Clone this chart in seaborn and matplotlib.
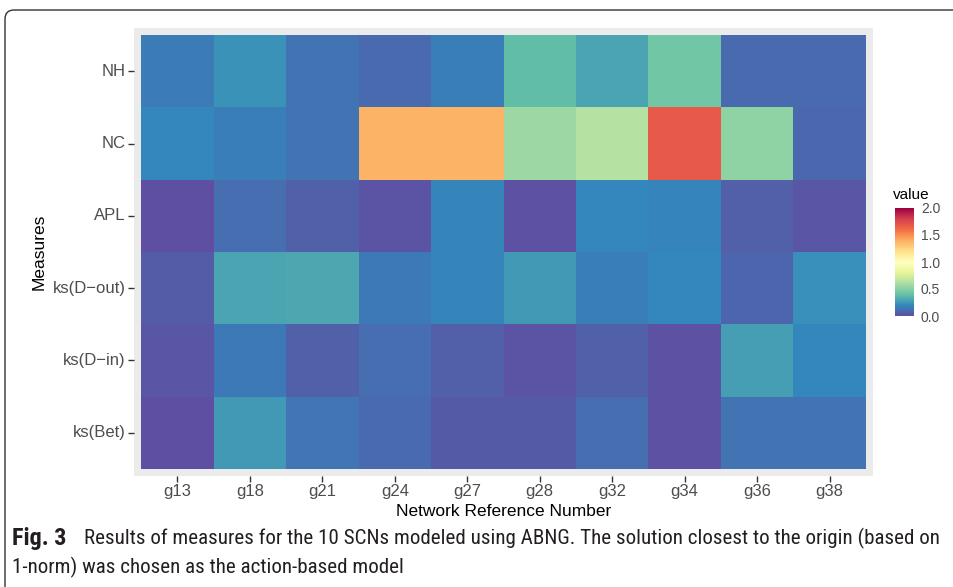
import numpy as np
import pandas as pd
import matplotlib
matplotlib.use("Agg")
import matplotlib.pyplot as plt
from matplotlib import font_manager
from matplotlib.patches import FancyBboxPatch
import seaborn as sns

networks = ["g13", "g18", "g21", "g24", "g27", "g28", "g32", "g34", "g36", "g38"]
measures = ["NH", "NC", "APL", "ks(D\u2212out)", "ks(D\u2212in)", "ks(Bet)"]

nh      = [0.16, 0.24, 0.13, 0.10, 0.17, 0.39, 0.30, 0.43, 0.10, 0.10]
nc      = [0.20, 0.17, 0.13, 1.38, 1.38, 0.56, 0.64, 1.68, 0.52, 0.09]
apl     = [0.00, 0.11, 0.07, 0.02, 0.19, 0.01, 0.20, 0.19, 0.06, 0.03]
ks_dout = [0.05, 0.30, 0.31, 0.15, 0.19, 0.26, 0.17, 0.20, 0.08, 0.23]
ks_din  = [0.03, 0.15, 0.07, 0.11, 0.06, 0.02, 0.07, 0.01, 0.28, 0.20]
ks_bet  = [0.00, 0.26, 0.14, 0.10, 0.04, 0.04, 0.11, 0.01, 0.13, 0.13]

cbar_ticks = [0.0, 0.5, 1.0, 1.5, 2.0]

df = pd.DataFrame([nh, nc, apl, ks_dout, ks_din, ks_bet], index=measures, columns=networks)

sns.set_theme(style="white")
plt.rcParams['font.family'] = ['Liberation Sans', 'DejaVu Sans']

W, H = 954, 587
fig = plt.figure(figsize=(W / 100, H / 100), dpi=100)

def px_axes(x0, y0, x1, y1):
    return fig.add_axes([x0 / W, 1 - y1 / H, (x1 - x0) / W, (y1 - y0) / H])

# background frame (journal box with rounded top-left corner)
bg = fig.add_axes([0, 0, 1, 1], zorder=-5)
bg.set_xlim(0, W)
bg.set_ylim(H, 0)
bg.axis("off")
bg.add_patch(FancyBboxPatch((5, 10), 1200, 900, boxstyle="round,pad=0,rounding_size=9",
                            fc="white", ec="#333333", lw=1.0))

ax = px_axes(134, 28, 873, 476)
cax = px_axes(895, 208, 914, 316)

ax.set_facecolor("#EBEBEB")
sns.heatmap(df, ax=ax, cmap="Spectral_r", vmin=0, vmax=2, cbar_ax=cax,
            linewidths=0, cbar_kws={"ticks": cbar_ticks})
ax.set_xlim(-0.1, len(networks) + 0.1)
ax.set_ylim(len(measures) + 0.1, -0.1)
for s in ax.spines.values():
    s.set_visible(False)
ax.set_xticks(np.arange(len(networks)) + 0.5)
ax.set_xticklabels(networks, rotation=0)
ax.set_yticks(np.arange(len(measures)) + 0.5)
ax.set_yticklabels(measures, rotation=0)
ax.tick_params(axis="both", length=4, width=1, color="#333333", labelcolor="#4D4D4D",
               labelsize=12, pad=2, bottom=True, left=True)
ax.set_xlabel("Network Reference Number", fontsize=12.5, color="black", labelpad=3)
ax.set_ylabel("Measures", fontsize=12.5, color="black", labelpad=4)

# colorbar styling (ggplot-like)
cbar = ax.collections[0].colorbar
cbar.outline.set_visible(False)
cax.yaxis.set_ticks_position("both")
cax.tick_params(axis="y", direction="in", length=4, width=1, color="white",
                labelleft=False, labelright=True, labelsize=10, labelcolor="#4D4D4D", pad=5)
cax.set_yticklabels([f"{t:.1f}" for t in cbar_ticks])
fig.text(893 / W, 1 - 195 / H, "value", fontsize=11, color="black", ha="left", va="center")

# caption
names = {f.name for f in font_manager.fontManager.ttflist}
cap_family = None
for cand in ["Liberation Sans Narrow", "Roboto Condensed", "Open Sans Condensed", "Noto Sans", "Liberation Sans"]:
    if cand in names:
        cap_family = cand
        break

renderer = fig.canvas.get_renderer()
t_bold = fig.text(12 / W, 1 - 538 / H, "Fig. 3", fontsize=14, fontweight="bold",
                  family=[cap_family, "DejaVu Sans"], color="#231F20", ha="left", va="center")
line1 = "Results of measures for the 10 SCNs modeled using ABNG. The solution closest to the origin (based on"
t1 = fig.text(84 / W, 1 - 538 / H, line1, fontsize=14, family=[cap_family, "DejaVu Sans"],
              color="#231F20", ha="left", va="center")
t2 = fig.text(12 / W, 1 - 567 / H, "1-norm) was chosen as the action-based model", fontsize=14,
              family=[cap_family, "DejaVu Sans"], color="#231F20", ha="left", va="center")
# fit caption line width to the target
w1 = t1.get_window_extent(renderer).width
fs = min(17, 14 * (945 - 84) / w1)
for t in (t1, t2):
    t.set_fontsize(fs)
t_bold.set_fontsize(fs * 1.15)

fig.savefig("out.png", dpi=100)
